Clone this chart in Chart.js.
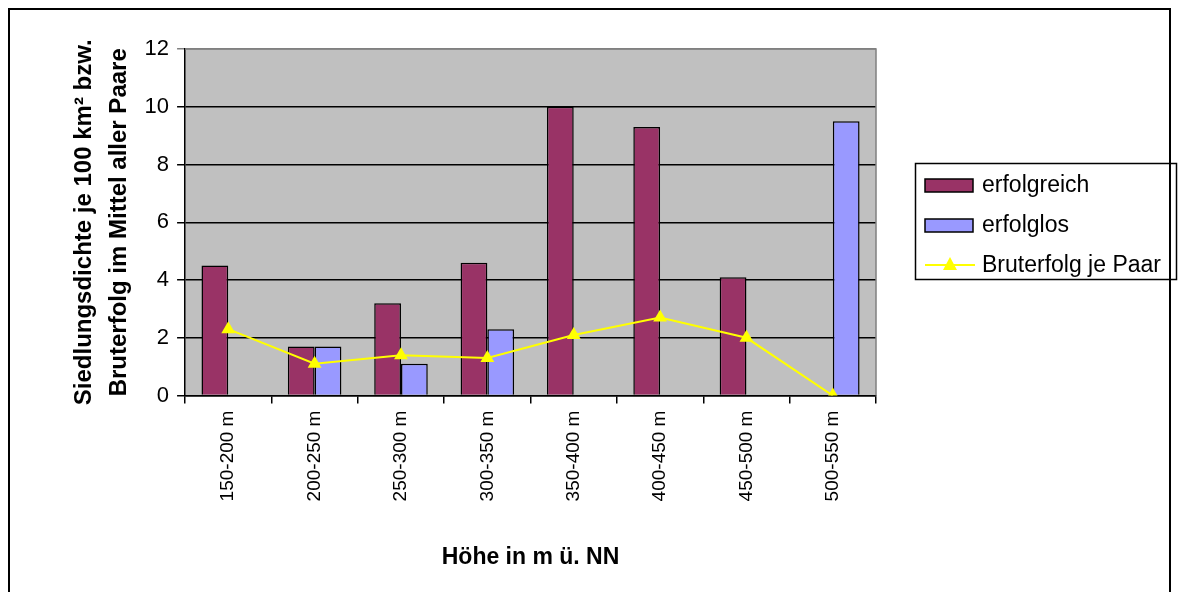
<!DOCTYPE html>
<html>
<head>
<meta charset="utf-8">
<script src="https://cdn.jsdelivr.net/npm/chart.js@4.4.1/dist/chart.umd.min.js"></script>
<style>
  html, body { margin: 0; padding: 0; background: #fff; }
  canvas { display: block; }
</style>
</head>
<body>
<canvas id="chart" width="1178" height="592"></canvas>
<script>
const categories = ['150-200 m', '200-250 m', '250-300 m', '300-350 m', '350-400 m', '400-450 m', '450-500 m', '500-550 m'];
const erfolgreich = [4.5, 1.7, 3.2, 4.6, 10, 9.3, 4.1, 0];
const erfolglos = [0, 1.7, 1.1, 2.3, 0, 0, 0, 9.5];
const bruterfolg = [2.3, 1.1, 1.4, 1.3, 2.1, 2.7, 2.0, 0];
const yTicks = [0, 2, 4, 6, 8, 10, 12];

const FONT = '"Liberation Sans", Arial, sans-serif';

// grey plot area, grey frame on top/right, outer black frame and boxed legend
const decorations = {
  id: 'decorations',
  beforeDraw(chart) {
    const { ctx, chartArea: a } = chart;
    ctx.save();
    ctx.fillStyle = '#C0C0C0';
    ctx.fillRect(a.left, a.top, a.right - a.left, a.bottom - a.top);
    ctx.restore();
  },
  beforeDatasetsDraw(chart) {
    const { ctx, chartArea: a } = chart;
    ctx.save();
    ctx.strokeStyle = '#808080';
    ctx.lineWidth = 1.5;
    ctx.beginPath();
    ctx.moveTo(a.left, a.top);
    ctx.lineTo(a.right, a.top);
    ctx.lineTo(a.right, a.bottom);
    ctx.stroke();
    ctx.restore();
  },
  afterDraw(chart) {
    const ctx = chart.ctx;
    ctx.save();
    ctx.strokeStyle = '#000';
    ctx.lineWidth = 2;
    ctx.strokeRect(9, 9, 1161, 600);

    // legend
    const lx = 915, ly = 163, lw = 261, lh = 116;
    ctx.lineWidth = 1.5;
    ctx.strokeRect(lx + 0.5, ly + 0.5, lw, lh);
    const items = [
      { label: 'erfolgreich', color: '#993366', type: 'bar' },
      { label: 'erfolglos', color: '#9999FF', type: 'bar' },
      { label: 'Bruterfolg je Paar', color: '#FFFF00', type: 'line' }
    ];
    ctx.font = '23px ' + FONT;
    ctx.textBaseline = 'middle';
    ctx.textAlign = 'left';
    items.forEach((it, i) => {
      const cy = ly + 22 + i * 40;
      if (it.type === 'bar') {
        ctx.fillStyle = it.color;
        ctx.fillRect(lx + 10, cy - 6, 48, 13);
        ctx.strokeStyle = '#000';
        ctx.lineWidth = 1.5;
        ctx.strokeRect(lx + 10, cy - 6, 48, 13);
      } else {
        ctx.strokeStyle = it.color;
        ctx.lineWidth = 2;
        ctx.beginPath();
        ctx.moveTo(lx + 10, cy);
        ctx.lineTo(lx + 60, cy);
        ctx.stroke();
        ctx.fillStyle = it.color;
        ctx.beginPath();
        ctx.moveTo(lx + 35, cy - 8);
        ctx.lineTo(lx + 42, cy + 5);
        ctx.lineTo(lx + 28, cy + 5);
        ctx.closePath();
        ctx.fill();
      }
      ctx.fillStyle = '#000';
      ctx.fillText(it.label, lx + 67, cy + 1);
    });
    ctx.restore();
  }
};

new Chart(document.getElementById('chart'), {
  type: 'bar',
  data: {
    labels: categories,
    datasets: [
      {
        type: 'line',
        label: 'Bruterfolg je Paar',
        data: bruterfolg,
        borderColor: '#FFFF00',
        backgroundColor: '#FFFF00',
        borderWidth: 2,
        pointStyle: 'triangle',
        pointRadius: 8,
        pointBorderWidth: 0,
        order: 0
      },
      {
        label: 'erfolgreich',
        data: erfolgreich,
        backgroundColor: '#993366',
        borderColor: '#000',
        borderWidth: 1.5,
        order: 1
      },
      {
        label: 'erfolglos',
        data: erfolglos,
        backgroundColor: '#9999FF',
        borderColor: '#000',
        borderWidth: 1.5,
        order: 1
      }
    ]
  },
  options: {
    responsive: false,
    animation: false,
    layout: { padding: { left: 67, right: 302, top: 49, bottom: 21 } },
    datasets: {
      bar: { categoryPercentage: 0.62, barPercentage: 1 }
    },
    plugins: {
      legend: { display: false },
      tooltip: { enabled: false }
    },
    scales: {
      x: {
        grid: {
          offset: true,
          drawOnChartArea: false,
          drawTicks: true,
          tickLength: 8,
          color: '#000',
          lineWidth: 1.5
        },
        border: { color: '#000', width: 1.5 },
        ticks: {
          color: '#000',
          font: { family: FONT, size: 19 },
          minRotation: 90,
          maxRotation: 90,
          padding: 7
        },
        title: {
          display: true,
          text: 'Höhe in m ü. NN',
          color: '#000',
          font: { family: FONT, size: 23, weight: 'bold' },
          padding: { top: 35, bottom: 0 }
        }
      },
      y: {
        min: 0,
        max: 12,
        afterBuildTicks(scale) {
          scale.ticks = yTicks.map(v => ({ value: v }));
        },
        grid: {
          color: ctx => (ctx.tick && ctx.tick.value === 12 ? '#808080' : '#000'),
          lineWidth: 1.5,
          tickLength: 8
        },
        border: { color: '#000', width: 1.5 },
        ticks: {
          color: '#000',
          font: { family: FONT, size: 22 },
          padding: 8
        },
        title: {
          display: true,
          text: ['Siedlungsdichte je 100 km² bzw.', 'Bruterfolg im Mittel aller Paare'],
          color: '#000',
          font: { family: FONT, size: 24, weight: 'bold', lineHeight: 1.45 },
          padding: { top: 0, bottom: 0 }
        }
      }
    }
  },
  plugins: [decorations]
});
</script>
</body>
</html>
